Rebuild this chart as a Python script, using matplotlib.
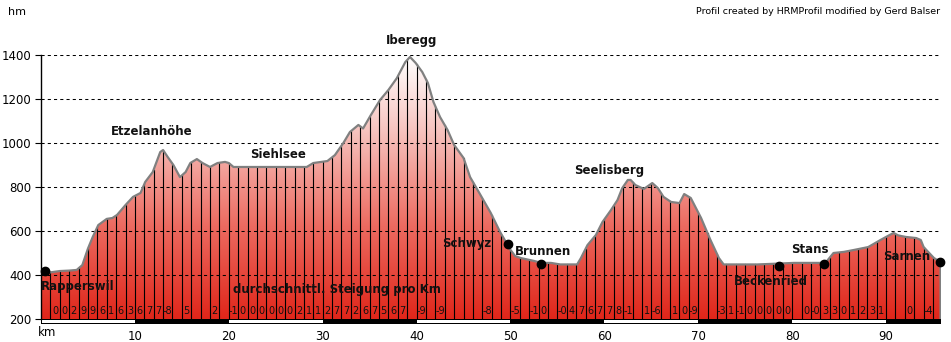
import numpy as np
import matplotlib
matplotlib.use("Agg")
import matplotlib.pyplot as plt
from matplotlib.colors import LinearSegmentedColormap
from matplotlib.patches import Polygon, Rectangle

# Elevation profile (km along route, metres)
km = [0.0, 1.0, 2.0, 3.0, 3.8, 4.4, 5.0, 5.5, 6.1, 7.0, 7.6, 8.1, 9.0, 9.8, 10.6,
      11.1, 11.9, 12.7, 13.0, 13.5, 14.1, 14.8, 15.4, 15.9, 16.6, 17.2, 18.0, 18.8,
      19.6, 20.0, 20.5, 28.3, 29.0, 30.5, 31.3, 32.2, 32.9, 33.8, 34.3, 35.1, 36.1,
      37.0, 37.9, 38.8, 39.3, 39.9, 40.6, 41.2, 41.8, 42.5, 43.3, 44.0, 45.0, 45.7,
      46.8, 47.9, 48.9, 50.0, 50.5, 51.1, 52.5, 53.3, 54.3, 55.3, 57.1, 57.5, 58.2,
      59.1, 59.8, 60.7, 61.4, 61.9, 62.5, 62.8, 63.3, 64.2, 65.1, 65.7, 66.3, 67.1,
      68.0, 68.5, 69.2, 70.3, 71.3, 72.2, 72.7, 74.5, 76.3, 78.6, 80.2, 83.0, 83.6,
      84.4, 85.5, 86.6, 88.1, 89.4, 90.3, 90.8, 91.3, 92.1, 93.2, 93.7, 94.0, 95.1,
      95.8]
elev = [410, 412, 418, 420, 423, 445, 520, 572, 627, 655, 659, 673, 718, 755, 773,
        823, 868, 959, 968, 936, 900, 845, 868, 909, 927, 909, 891, 909,
        914, 909, 891, 891, 909, 918, 945, 1000, 1050, 1082, 1066, 1125, 1195,
        1241, 1295, 1368, 1391, 1364, 1323, 1273, 1186, 1118, 1059, 991, 932, 845,
        764, 682, 595, 514, 486, 477, 464, 455, 455, 448, 448, 477, 536,
        582, 641, 695, 741, 795, 832, 832, 809, 791, 818, 795, 755, 732,
        727, 768, 750, 659, 559, 477, 448, 448, 448, 452, 455, 455, 458,
        500, 505, 514, 527, 559, 580, 591, 580, 573, 568, 559, 527, 477,
        459]
total_km = 95.85

# Average gradient per km (label for each 1 km segment)
gradients = ["", "0", "0", "2", "9", "9", "6", "1", "6", "3",
             "6", "7", "7", "-8", "", "5", "", "", "2", "",
             "-1", "0", "0", "0", "0", "0", "0", "2", "1", "1",
             "2", "7", "7", "2", "6", "7", "5", "6", "7", "",
             "-9", "", "-9", "", "", "", "", "-8", "", "",
             "-5", "", "-1", "0", "", "-0", "4", "7", "6", "7",
             "7", "8", "-1", "", "1", "-6", "", "1", "0", "-9",
             "", "", "-3", "1", "-1", "0", "0", "0", "0", "0",
             "", "0", "-0", "3", "3", "0", "1", "2", "3", "1",
             "", "", "0", "", "-4", ""]

# Named places: label, label position (km, m), dot position (km, m) or None
place_names = ["Rapperswil", "Etzelanhöhe", "Siehlsee", "Iberegg", "Schwyz",
               "Brunnen", "Seelisberg", "Beckenried", "Stans", "Sarnen"]
label_km = [0.0, 11.8, 25.3, 39.5, 45.3, 53.5, 60.5, 77.7, 81.9, 92.2]
label_m = [347, 1053, 949, 1464, 541, 506, 874, 370, 517, 486]
dot_km = [0.43, None, None, None, 49.7, 53.3, None, 78.6, 83.4, 95.7]
dot_m = [418, None, None, None, 541, 450, None, 441, 450, 459]

y_ticks = [200, 400, 600, 800, 1000, 1200, 1400]
x_ticks = [10, 20, 30, 40, 50, 60, 70, 80, 90]

W, H = 951, 342
fig = plt.figure(figsize=(W / 100, H / 100), dpi=100)
ax = fig.add_axes([41 / W, 23 / H, 900 / W, 264 / H])
ax.set_xlim(0, total_km)
ax.set_ylim(200, 1400)

# gradient fill under the profile
cmap = LinearSegmentedColormap.from_list("alt", [(0.0, "#e0261a"), (0.35, "#ec6a60"),
                                                 (0.7, "#f6c0bb"), (1.0, "#ffffff")])
grad = np.linspace(0, 1, 256).reshape(-1, 1)
img = ax.imshow(grad, extent=[0, total_km, 200, 1400], origin="lower", aspect="auto",
                cmap=cmap, zorder=1, interpolation="bilinear")
poly_xy = [(0, 200)] + list(zip(km, elev)) + [(km[-1], 200)]
clip = Polygon(poly_xy, closed=True, facecolor="none", edgecolor="none",
               transform=ax.transData)
ax.add_patch(clip)
img.set_clip_path(clip)

# vertical km lines up to the profile
for k in range(1, int(total_km) + 1):
    top = np.interp(k, km, elev)
    ax.plot([k, k], [200, top], color="black", lw=0.8, zorder=2)

# dashed grid
for yv in y_ticks[1:]:
    ax.plot([0, total_km], [yv, yv], color="black", lw=0.75,
            dashes=(3, 3), zorder=3)

# profile outline
ax.plot(km + [km[-1]], elev + [200], color="#808080", lw=1.6, zorder=4,
        solid_joinstyle="round")

# gradient labels
for i, g in enumerate(gradients):
    if g:
        ax.text(i + 0.5, 236, g, ha="center", va="center", fontsize=7,
                color="#111111", zorder=5)

# place labels and dots
for name, lx, ly, dx, dy in zip(place_names, label_km, label_m, dot_km, dot_m):
    ha = "left" if name == "Rapperswil" else "center"
    ax.text(lx, ly, name, ha=ha, va="center", fontsize=8.5, fontweight="bold",
            color="#111111", zorder=6, clip_on=False)
    if dx is not None:
        ax.plot(dx, dy, "o", color="black", ms=6, zorder=6, clip_on=False)

ax.text(31.5, 336, "durchschnittl. Steigung pro Km", ha="center", va="center",
        fontsize=8.5, fontweight="bold", color="#111111", zorder=6)

# alternating 10 km scale bar below the axis
px_y = 1200 / 264
px_x = total_km / 900
ax.add_patch(Rectangle((0, 200 - 4.5 * px_y), total_km, 4.5 * px_y, facecolor="black",
                       edgecolor="none", clip_on=False, zorder=5))
for s in range(0, 100, 20):
    e = min(s + 10, total_km)
    x0 = s + (px_x if s == 0 else 0)
    ax.add_patch(Rectangle((x0, 200 - 3.5 * px_y), e - x0, 2.5 * px_y,
                           facecolor="white", edgecolor="none", clip_on=False,
                           zorder=6))

# axes styling
for side in ["top", "right", "bottom"]:
    ax.spines[side].set_visible(False)
ax.spines["left"].set_linewidth(1.0)
ax.spines["left"].set_zorder(7)
ax.set_yticks(y_ticks)
ax.set_yticklabels([str(v) for v in y_ticks], fontsize=8.5)
ax.tick_params(axis="y", length=4, width=0.8, pad=3)
ax.set_xticks(x_ticks)
ax.set_xticklabels([str(v) for v in x_ticks], fontsize=8.5)
ax.tick_params(axis="x", length=0, pad=8)
ax.text(0.6, 200 - 14 * px_y, "km", ha="center", va="center", fontsize=8.5,
        clip_on=False)

fig.text(17 / W, 1 - 12 / H, "hm", ha="center", va="center", fontsize=8)
fig.text(940 / W, 1 - 12 / H, "Profil created by HRMProfil modified by Gerd Balser",
         ha="right", va="center", fontsize=6.8)

fig.savefig("out.png", dpi=100)
